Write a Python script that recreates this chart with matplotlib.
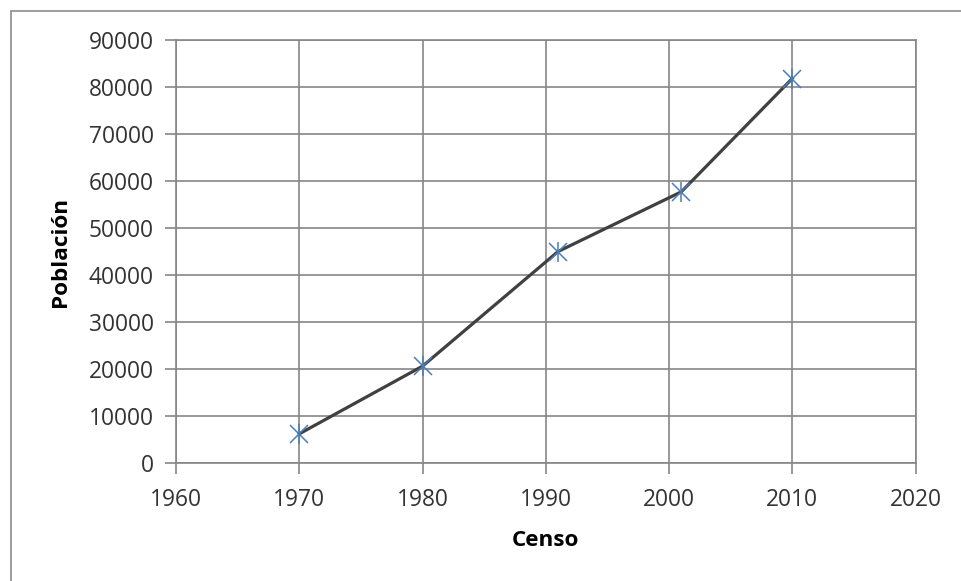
import matplotlib
matplotlib.use("Agg")
import matplotlib.pyplot as plt
from matplotlib.patches import Rectangle

censo = [1970, 1980, 1991, 2001, 2010]
poblacion = [6200, 20600, 45000, 57700, 81800]
xticks = [1960, 1970, 1980, 1990, 2000, 2010, 2020]
yticks = [0, 10000, 20000, 30000, 40000, 50000, 60000, 70000, 80000, 90000]

plt.rcParams['font.family'] = ['Open Sans', 'DejaVu Sans']
grey = "#868686"

fig = plt.figure(figsize=(9.61, 5.81), dpi=100)
ax = fig.add_axes([176/961, 1 - 463/581, (915.5 - 176)/961, (463 - 40)/581])

# chart frame (cut off at right/bottom like the screenshot)
fig.patches.append(Rectangle((11/961, -0.1), 1.2, 1 - 11/581 + 0.1,
                             transform=fig.transFigure, fill=False,
                             edgecolor="#8c8c8c", linewidth=1.2))

ax.plot(censo, poblacion, color="#404040", linewidth=2.3, zorder=3)
ax.plot(censo, poblacion, linestyle="none", marker="x", markersize=13,
        markeredgewidth=1.1, color="#4a7ebb", zorder=4)
ax.plot(censo, poblacion, linestyle="none", marker="|", markersize=15,
        markeredgewidth=1.1, color="#4a7ebb", zorder=4)

ax.set_xlim(1960, 2020)
ax.set_ylim(0, 90000)
ax.set_xticks(xticks)
ax.set_yticks(yticks)
ax.grid(True, color=grey, linewidth=1.2)
ax.set_axisbelow(True)
for s in ax.spines.values():
    s.set_color(grey)
    s.set_linewidth(1.2)
ax.tick_params(direction="out", length=8, width=1.2, color=grey,
               labelsize=16.4, labelcolor="#333333")
ax.tick_params(axis="x", pad=10)
ax.tick_params(axis="y", pad=8)

ax.set_xlabel("Censo", fontsize=16.2, fontweight="bold", labelpad=13)
ax.set_ylabel("Población", fontsize=16.2, fontweight="bold", labelpad=13)

fig.savefig("out.png", dpi=100)
